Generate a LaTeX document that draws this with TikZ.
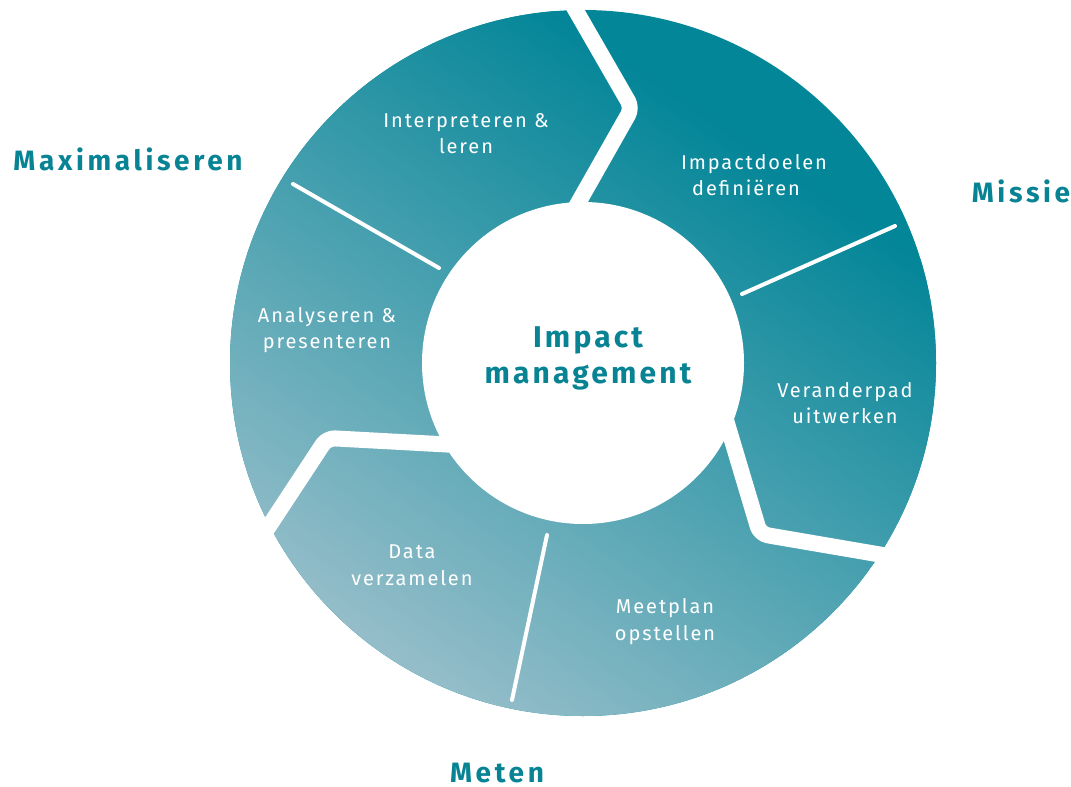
\documentclass[tikz,border=0pt]{standalone}
\usepackage{fontspec}
\setmainfont{Fira Sans}
\newfontfamily\lblfont[LetterSpace=9.5]{Fira Sans}
\newfontfamily\ttlfont[LetterSpace=13]{Fira Sans}
\newfontfamily\ctrfont[LetterSpace=10.5]{Fira Sans}
\definecolor{tealdark}{RGB}{3,134,152}
\definecolor{tealmid}{RGB}{92,160,177}
\definecolor{teallight}{RGB}{166,196,207}
\definecolor{titleteal}{RGB}{8,131,148}
\tikzset{
  gapline/.style={draw=white, line width=16pt, line join=round, rounded corners=8pt},
  divline/.style={draw=white, line width=4pt, line cap=round},
  lbl/.style={text=white, font=\lblfont\fontsize{20pt}{26pt}\selectfont, anchor=base, inner sep=0pt},
  ttl/.style={text=titleteal, font=\ttlfont\bfseries\fontsize{28pt}{34pt}\selectfont, anchor=base, inner sep=0pt, text depth=0pt},
  ctr/.style={text=titleteal, font=\ctrfont\bfseries\fontsize{30pt}{36pt}\selectfont, anchor=base, inner sep=0pt}
}
\begin{document}
\begin{tikzpicture}[x=1pt,y=-1pt]
\useasboundingbox (0,0) rectangle (1071,787);
\coordinate (C) at (583,363);
% ring with gradient
\begin{scope}
  \clip (C) circle[radius=353pt];
  \fill[tealdark] (C) circle[radius=360pt];
  \shade[transform canvas={rotate around={-34:(545,428)}}, top color=tealdark, middle color=tealmid, bottom color=teallight]
    (-155,78) rectangle (1245,778);
\end{scope}
% chevron gaps
\draw[gapline] (560,-17) -- (632,108) -- (560,235);
\draw[gapline] (720,400) -- (760,534) -- (912,560);
\draw[gapline] (475,446) -- (327,438) -- (252,552);
% dividers
\draw[divline] (293,184) -- (439,268);
\draw[divline] (742,294) -- (895,226);
\draw[divline] (547,535) -- (512,700);
% inner circle
\fill[white] (C) circle[radius=161pt];
% center title
\node[ctr] (t1) at (588,347) {Impact};
\node[ctr] (t2) at (588,383) {management};
% outer titles
\node[ttl] (max) at (128,170) {Maximaliseren};
\node[ttl] (mis) at (1021,202) {Missie};
\node[ttl] (met) at (497,782) {Meten};
% segment labels
\node[lbl] (a1) at (466,127) {Interpreteren \&};
\node[lbl] (a2) at (466,153) {leren};
\node[lbl] (b1) at (754,169) {Impactdoelen};
\node[lbl] (b2) at (746,195) {definiëren};
\node[lbl] (c1) at (845,397) {Veranderpad};
\node[lbl] (c2) at (845,423) {uitwerken};
\node[lbl] (d1) at (665,613) {Meetplan};
\node[lbl] (d2) at (665,640) {opstellen};
\node[lbl] (e1) at (412,558) {Data};
\node[lbl] (e2) at (412,585) {verzamelen};
\node[lbl] (f1) at (327,322) {Analyseren \&};
\node[lbl] (f2) at (327,348) {presenteren};
\end{tikzpicture}
\end{document}
